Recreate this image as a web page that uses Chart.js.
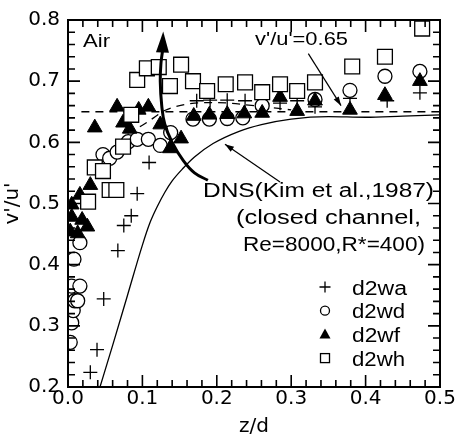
<!DOCTYPE html>
<html><head><meta charset="utf-8">
<script src="https://cdn.jsdelivr.net/npm/chart.js@4.4.0/dist/chart.umd.min.js"></script>
<style>html,body{margin:0;padding:0;background:#fff}#wrap{width:460px;height:440px;position:relative}</style>
</head><body><div id="wrap"><canvas id="c"></canvas></div>
<script>
// ---------- data ----------
const xTickValues = [0.0, 0.1, 0.2, 0.3, 0.4, 0.5];
const yTickValues = [0.2, 0.3, 0.4, 0.5, 0.6, 0.7, 0.8];
const seriesNames = ['d2wa', 'd2wd', 'd2wf', 'd2wh'];

const d2waX = [0.030,0.039,0.048,0.067,0.075,0.085,0.093,0.109,0.173,0.191,0.214,0.238,0.261,0.285,0.308,0.332,0.379,0.429,0.473];
const d2waY = [0.224,0.261,0.344,0.423,0.464,0.480,0.516,0.567,0.668,0.669,0.669,0.668,0.663,0.664,0.668,0.658,0.672,0.668,0.681];

const d2wdX = [0.003,0.005,0.007,0.009,0.013,0.005,0.016,0.008,0.016,0.047,0.056,0.066,0.081,0.093,0.108,0.124,0.138,0.168,0.190,0.214,0.235,0.261,0.332,0.379,0.426,0.473];
const d2wdY = [0.273,0.305,0.325,0.341,0.341,0.365,0.365,0.409,0.436,0.580,0.574,0.584,0.601,0.605,0.605,0.595,0.616,0.638,0.638,0.639,0.640,0.660,0.670,0.685,0.708,0.716];

const d2wfX = [0.003,0.005,0.005,0.013,0.016,0.019,0.026,0.030,0.036,0.066,0.074,0.083,0.095,0.108,0.124,0.137,0.152,0.169,0.190,0.214,0.237,0.261,0.285,0.308,0.332,0.379,0.426,0.473];
const d2wfY = [0.454,0.478,0.498,0.451,0.514,0.473,0.462,0.530,0.624,0.658,0.632,0.622,0.653,0.658,0.629,0.590,0.606,0.643,0.645,0.646,0.647,0.648,0.674,0.651,0.668,0.653,0.677,0.700];

const d2whX = [0.027,0.036,0.047,0.056,0.065,0.074,0.085,0.093,0.106,0.122,0.137,0.152,0.168,0.187,0.212,0.238,0.261,0.285,0.308,0.332,0.382,0.426,0.476];
const d2whY = [0.503,0.559,0.553,0.522,0.522,0.593,0.645,0.702,0.721,0.723,0.692,0.727,0.700,0.684,0.695,0.698,0.682,0.695,0.684,0.698,0.724,0.740,0.786];

// DNS (Kim et al., 1987) curve
const dnsX = [0.043,0.060,0.080,0.100,0.110,0.120,0.130,0.140,0.155,0.170,0.195,0.230,0.260,0.300,0.350,0.400,0.450,0.500];
const dnsY = [0.200,0.268,0.350,0.432,0.468,0.495,0.518,0.537,0.558,0.576,0.598,0.618,0.629,0.638,0.642,0.641,0.643,0.645];

// reference line v'/u' = 0.65
const refX = [0.018, 0.500];
const refY = [0.650, 0.650];

// second dashed curve
const dashCurveX = [0.080,0.100,0.115,0.130,0.150,0.170,0.200,0.250,0.300];
const dashCurveY = [0.615,0.628,0.640,0.652,0.660,0.664,0.665,0.660,0.653];

// thick arrow (shaft from head base downward) and its tip
const thickArrowX = [0.127,0.125,0.124,0.126,0.130,0.140,0.155,0.170,0.188];
const thickArrowY = [0.749,0.730,0.700,0.660,0.630,0.600,0.570,0.550,0.538];
const thickTip = [0.128, 0.781];

// leader arrows (from label to tip)
const refLeaderX = [0.323, 0.367];
const refLeaderY = [0.745, 0.660];
const dnsLeaderX = [0.285, 0.211];
const dnsLeaderY = [0.535, 0.597];

const labelAir = 'Air';
const labelRef = "v'/u'=0.65";
const labelDns = ['DNS(Kim et al.,1987)', '(closed channel,', 'Re=8000,R*=400)'];
const xTitle = 'z/d';
const yTitle = "v'/u'";

// ---------- build ----------
const pts = (xs, ys) => xs.map((x, i) => ({x: x, y: ys[i]}));
const TXT = '"Liberation Sans", Arial, sans-serif';

function fitText(ctx, str, left, base, size, width) {
  ctx.save();
  ctx.font = size + 'px ' + TXT;
  const w = ctx.measureText(str).width;
  ctx.translate(left, base);
  ctx.scale(width / w, 1);
  ctx.fillStyle = '#000';
  ctx.textAlign = 'left';
  ctx.textBaseline = 'alphabetic';
  ctx.fillText(str, 0, 0);
  ctx.restore();
}
function arrowHead(ctx, tx, ty, fx, fy, len, half) {
  const a = Math.atan2(ty - fy, tx - fx);
  const bx = tx - len * Math.cos(a), by = ty - len * Math.sin(a);
  ctx.beginPath();
  ctx.moveTo(tx, ty);
  ctx.lineTo(bx + half * Math.sin(a), by - half * Math.cos(a));
  ctx.lineTo(bx - half * Math.sin(a), by + half * Math.cos(a));
  ctx.closePath();
  ctx.fill();
}

const decor = {
  id: 'decor',
  beforeDraw(chart) {
    const c = chart.ctx;
    c.save(); c.fillStyle = '#fff'; c.fillRect(0, 0, chart.width, chart.height); c.restore();
  },
  afterDatasetsDraw(chart) {
    const c = chart.ctx, a = chart.chartArea, xs = chart.scales.x, ys = chart.scales.y;
    const X = v => xs.getPixelForValue(v), Y = v => ys.getPixelForValue(v);
    c.save();
    c.fillStyle = '#000'; c.strokeStyle = '#000';
    // thick arrow head
    arrowHead(c, X(thickTip[0]), Y(thickTip[1]), X(thickArrowX[0]), Y(thickArrowY[0]) + 1, 21, 6.5);
    // leader arrows
    c.lineWidth = 1.2;
    [[refLeaderX, refLeaderY], [dnsLeaderX, dnsLeaderY]].forEach(([lx, ly]) => {
      c.beginPath(); c.moveTo(X(lx[0]), Y(ly[0])); c.lineTo(X(lx[1]), Y(ly[1])); c.stroke();
      arrowHead(c, X(lx[1]), Y(ly[1]), X(lx[0]), Y(ly[0]), 9, 3);
    });
    // frame
    c.lineWidth = 2;
    c.strokeRect(a.left, a.top, a.right - a.left, a.bottom - a.top);
    // inward ticks on all four sides
    c.lineWidth = 1.6;
    for (let i = 0; i <= 25; i++) {
      const v = xs.min + i * 0.02, p = X(v), L = (i % 5 === 0) ? 12 : 7;
      c.beginPath(); c.moveTo(p, a.bottom); c.lineTo(p, a.bottom - L);
      c.moveTo(p, a.top); c.lineTo(p, a.top + L); c.stroke();
    }
    for (let i = 0; i <= 30; i++) {
      const v = ys.min + i * 0.02, p = Y(v), L = (i % 5 === 0) ? 12 : 7;
      c.beginPath(); c.moveTo(a.left, p); c.lineTo(a.left + L, p);
      c.moveTo(a.right, p); c.lineTo(a.right - L, p); c.stroke();
    }
    // annotation texts
    fitText(c, labelAir, 83, 47, 18, 27);
    fitText(c, labelRef, 255, 45, 18, 93);
    fitText(c, labelDns[0], 203, 197, 20, 231);
    fitText(c, labelDns[1], 236, 224, 20, 185);
    fitText(c, labelDns[2], 243, 251, 20, 182);
    // legend
    const lx = 325;
    chart.data.datasets.filter(d => seriesNames.includes(d.label)).forEach((d, i) => {
      const ly = 287 + i * 23.7;
      c.lineWidth = 1.3; c.strokeStyle = '#000';
      if (d.pointStyle === 'cross') {
        c.beginPath(); c.moveTo(lx - 5.5, ly); c.lineTo(lx + 5.5, ly); c.moveTo(lx, ly - 5.5); c.lineTo(lx, ly + 5.5); c.stroke();
      } else if (d.pointStyle === 'circle') {
        c.beginPath(); c.arc(lx, ly, 4.5, 0, Math.PI * 2); c.fillStyle = '#fff'; c.fill(); c.stroke();
      } else if (d.pointStyle === 'triangle') {
        c.beginPath(); c.moveTo(lx, ly - 6); c.lineTo(lx + 5.5, ly + 4); c.lineTo(lx - 5.5, ly + 4); c.closePath(); c.fillStyle = '#000'; c.fill();
      } else {
        c.fillStyle = '#fff'; c.fillRect(lx - 4.5, ly - 4.5, 9, 9); c.strokeRect(lx - 4.5, ly - 4.5, 9, 9);
      }
      c.fillStyle = '#000';
      fitText(c, d.label, 352, ly + 7.5, 20, d.label === 'd2wf' ? 48 : (d.label === 'd2wa' ? 55 : 53));
    });
    c.restore();
  }
};

const lineDs = (label, xs, ys, extra) => Object.assign({
  label: label, type: 'line', data: pts(xs, ys), showLine: true, pointRadius: 0,
  borderColor: '#000', borderWidth: 1.3, fill: false, cubicInterpolationMode: 'monotone'
}, extra);

const tickFont = {family: '"DejaVu Sans"', size: 20};

const chart = new Chart(document.getElementById('c'), {
  type: 'scatter',
  data: {
    datasets: [
      lineDs('arrow', thickArrowX, thickArrowY, {borderWidth: 3, cubicInterpolationMode: 'default', tension: 0.4, order: -1}),
      {label: seriesNames[0], data: pts(d2waX, d2waY), pointStyle: 'cross', pointRadius: 7, borderColor: '#000', borderWidth: 1.3, order: 3},
      {label: seriesNames[1], data: pts(d2wdX, d2wdY), pointStyle: 'circle', pointRadius: 7, backgroundColor: '#fff', borderColor: '#000', borderWidth: 1.3, order: 2},
      {label: seriesNames[2], data: pts(d2wfX, d2wfY), pointStyle: 'triangle', pointRadius: 8.5, backgroundColor: '#000', borderColor: '#000', borderWidth: 1, order: 1},
      {label: seriesNames[3], data: pts(d2whX, d2whY), pointStyle: 'rect', pointRadius: 10.5, backgroundColor: '#fff', borderColor: '#000', borderWidth: 1.3, order: 0},
      lineDs('DNS', dnsX, dnsY, {order: 6}),
      lineDs('ref', refX, refY, {borderDash: [8, 6], order: 6}),
      lineDs('dash', dashCurveX, dashCurveY, {borderDash: [8, 6], order: 6})
    ]
  },
  options: {
    responsive: true, maintainAspectRatio: false, animation: false, events: [],
    layout: {padding: {left: 0, top: 16, right: 20, bottom: 0}},
    plugins: {legend: {display: false}, tooltip: {enabled: false}},
    scales: {
      x: {
        type: 'linear', min: xTickValues[0], max: xTickValues[xTickValues.length - 1],
        afterBuildTicks: s => { s.ticks = xTickValues.map(v => ({value: v})); },
        ticks: {callback: v => v.toFixed(1), color: '#000', padding: 0, maxRotation: 0, font: tickFont},
        grid: {display: false, drawTicks: false}, border: {display: false},
        title: {display: true, text: xTitle, color: '#000', padding: {top: 0, bottom: 1}, font: tickFont},
        afterFit: s => { s.height = 53; }
      },
      y: {
        type: 'linear', min: yTickValues[0], max: yTickValues[yTickValues.length - 1],
        afterBuildTicks: s => { s.ticks = yTickValues.map(v => ({value: v})); },
        ticks: {callback: v => v.toFixed(1), color: '#000', padding: 8, font: tickFont},
        grid: {display: false, drawTicks: false}, border: {display: false},
        title: {display: true, text: yTitle, color: '#000', padding: {top: 1, bottom: 0}, font: tickFont},
        afterFit: s => { s.width = 68; }
      }
    }
  },
  plugins: [decor]
});
</script>
</body></html>
